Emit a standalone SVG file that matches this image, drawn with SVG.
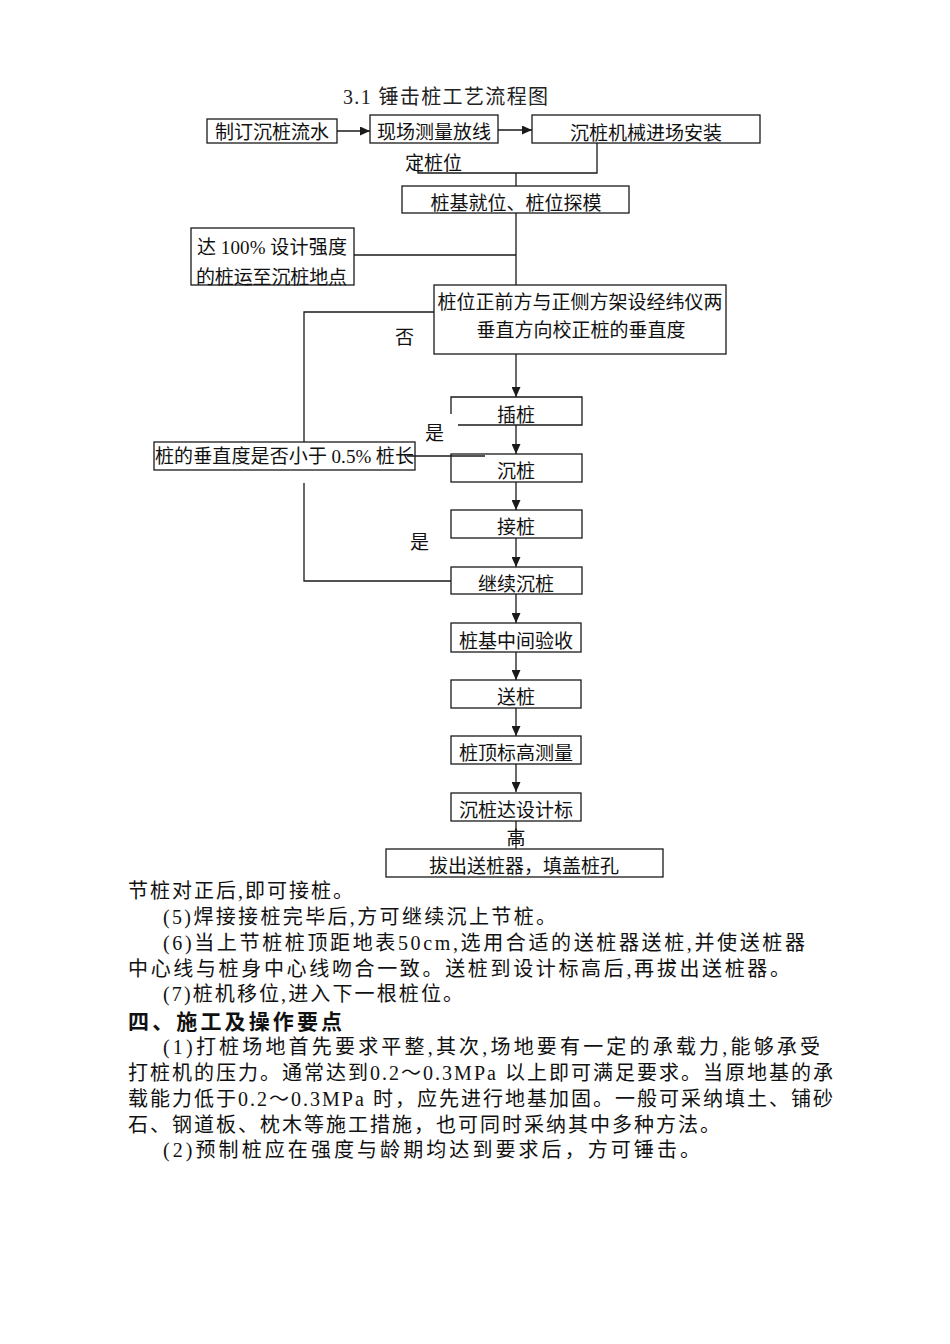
<svg xmlns="http://www.w3.org/2000/svg" width="950" height="1344" viewBox="0 0 950 1344">
<style>
.bx{fill:#fff;stroke:#1a1a1a;stroke-width:1.3}
.ln{fill:none;stroke:#1a1a1a;stroke-width:1.3}
.t{font-family:"Noto Sans CJK SC","Noto Sans",sans-serif;font-size:19px;fill:#111}
.tc{text-anchor:middle}
.num{font-family:"Liberation Serif","Noto Sans CJK SC",serif}
.body{font-family:"Liberation Serif","Noto Sans CJK SC",serif;font-size:20px;fill:#111}
.hd{font-family:"Noto Sans CJK SC",sans-serif;font-size:21px;font-weight:bold;fill:#111}
.title{font-family:"Liberation Serif","Noto Sans CJK SC",serif;font-size:20px;fill:#222}
</style>
<defs>
<marker id="ah" markerUnits="userSpaceOnUse" markerWidth="10" markerHeight="9" refX="10" refY="4.5" orient="auto">
<path d="M0,0 L10,4.5 L0,9 z" fill="#1a1a1a"/>
</marker>
</defs>
<rect width="950" height="1344" fill="#fff"/>
<text class="title" x="343" y="104" textLength="205" lengthAdjust="spacing">3.1 锤击桩工艺流程图</text>

<g id="connectors">
<line class="ln" x1="337" y1="131" x2="370" y2="131" marker-end="url(#ah)"/>
<line class="ln" x1="498" y1="130" x2="532" y2="130" marker-end="url(#ah)"/>
<polyline class="ln" points="418,158 418,173 597,173 597,143"/>
<line class="ln" x1="516" y1="173" x2="516" y2="186"/>
<line class="ln" x1="516" y1="213" x2="516" y2="285"/>
<line class="ln" x1="354" y1="255" x2="516" y2="255"/>
<line class="ln" x1="516" y1="354" x2="516" y2="397" marker-end="url(#ah)"/>
<polyline class="ln" points="434,312 304,312 304,442"/>
<polyline class="ln" points="304,483 304,581 451,581"/>
<line class="ln" x1="516" y1="425" x2="516" y2="454" marker-end="url(#ah)"/>
<line class="ln" x1="516" y1="482" x2="516" y2="510" marker-end="url(#ah)"/>
<line class="ln" x1="516" y1="538" x2="516" y2="567" marker-end="url(#ah)"/>
<line class="ln" x1="516" y1="594" x2="516" y2="623" marker-end="url(#ah)"/>
<line class="ln" x1="516" y1="652" x2="516" y2="680" marker-end="url(#ah)"/>
<line class="ln" x1="516" y1="708" x2="516" y2="736" marker-end="url(#ah)"/>
<line class="ln" x1="516" y1="764" x2="516" y2="792" marker-end="url(#ah)"/>
<line class="ln" x1="516" y1="821" x2="516" y2="849"/>
</g>

<g id="n1"><rect class="bx" x="207" y="119" width="130" height="24"/><text class="t tc" x="272" y="139">制订沉桩流水</text></g>
<g id="n2"><rect class="bx" x="370" y="115" width="128" height="28"/><text class="t tc" x="434" y="139">现场测量放线</text></g>
<g id="n2b"><text class="t" x="405" y="170">定桩位</text></g>
<g id="n3"><rect class="bx" x="532" y="115" width="228" height="28"/><text class="t tc" x="646" y="140">沉桩机械进场安装</text></g>
<g id="n4"><rect class="bx" x="402" y="186" width="227" height="27"/><text class="t tc" x="516" y="210">桩基就位、桩位探模</text></g>
<g id="n5"><rect class="bx" x="191" y="228" width="163" height="57"/>
<text class="t" x="197" y="254" textLength="150" lengthAdjust="spacing">达 <tspan class="num">100%</tspan> 设计强度</text>
<text class="t" x="196" y="284" textLength="151" lengthAdjust="spacing">的桩运至沉桩地点</text></g>
<g id="n6"><rect class="bx" x="434" y="285" width="292" height="69"/>
<text class="t tc" x="580" y="309">桩位正前方与正侧方架设经纬仪两</text>
<text class="t tc" x="581" y="337">垂直方向校正桩的垂直度</text></g>
<g id="lbl-no"><text class="t" x="395" y="344">否</text></g>
<g id="n7"><path class="ln" d="M451,414 L451,397 L582,397 L582,425 L458,425"/><text class="t tc" x="516" y="422">插桩</text></g>
<g id="lbl-yes1"><text class="t" x="425" y="440">是</text></g>
<g id="n8"><rect class="bx" x="451" y="454" width="131" height="28"/><text class="t tc" x="516" y="478">沉桩</text></g>
<g id="dec"><rect class="bx" x="154" y="442" width="261" height="28"/>
<text class="t" x="155" y="463" textLength="259" lengthAdjust="spacing">桩的垂直度是否小于 <tspan class="num">0.5%</tspan> 桩长</text></g>
<g id="connector-dec"><line class="ln" x1="407" y1="456" x2="485" y2="456"/></g>
<g id="n9"><rect class="bx" x="451" y="510" width="131" height="28"/><text class="t tc" x="516" y="534">接桩</text></g>
<g id="lbl-yes2"><text class="t" x="410" y="549">是</text></g>
<g id="n10"><rect class="bx" x="451" y="567" width="131" height="27"/><text class="t tc" x="516" y="591">继续沉桩</text></g>
<g id="n11"><rect class="bx" x="451" y="623" width="130" height="29"/><text class="t tc" x="516" y="648">桩基中间验收</text></g>
<g id="n12"><rect class="bx" x="451" y="680" width="130" height="28"/><text class="t tc" x="516" y="704">送桩</text></g>
<g id="n13"><rect class="bx" x="451" y="736" width="130" height="28"/><text class="t tc" x="516" y="760">桩顶标高测量</text></g>
<g id="n14"><rect class="bx" x="451" y="793" width="130" height="28"/><text class="t tc" x="516" y="817">沉桩达设计标</text></g>
<g id="n14b"><text class="t tc" x="516" y="845">高</text></g>
<g id="n15"><rect class="bx" x="386" y="849" width="277" height="28"/><text class="t tc" x="524" y="873">拔出送桩器，填盖桩孔</text></g>

<g id="body">
<text class="body" x="128" y="898" textLength="225" lengthAdjust="spacing">节桩对正后,即可接桩。</text>
<text class="body" x="163" y="924" textLength="393" lengthAdjust="spacing">(5)焊接接桩完毕后,方可继续沉上节桩。</text>
<text class="body" x="163" y="950" textLength="642" lengthAdjust="spacing">(6)当上节桩桩顶距地表50cm,选用合适的送桩器送桩,并使送桩器</text>
<text class="body" x="128" y="976" textLength="662" lengthAdjust="spacing">中心线与桩身中心线吻合一致。送桩到设计标高后,再拔出送桩器。</text>
<text class="body" x="163" y="1001" textLength="300" lengthAdjust="spacing">(7)桩机移位,进入下一根桩位。</text>
<text class="hd" x="128" y="1029" textLength="214" lengthAdjust="spacing">四、施工及操作要点</text>
<text class="body" x="163" y="1054" textLength="657" lengthAdjust="spacing">(1)打桩场地首先要求平整,其次,场地要有一定的承载力,能够承受</text>
<text class="body" x="128" y="1080" textLength="705" lengthAdjust="spacing">打桩机的压力。通常达到0.2～0.3MPa 以上即可满足要求。当原地基的承</text>
<text class="body" x="128" y="1106" textLength="705" lengthAdjust="spacing">载能力低于0.2～0.3MPa 时，应先进行地基加固。一般可采纳填土、铺砂</text>
<text class="body" x="128" y="1132" textLength="592" lengthAdjust="spacing">石、钢道板、枕木等施工措施，也可同时采纳其中多种方法。</text>
<text class="body" x="163" y="1157" textLength="537" lengthAdjust="spacing">(2)预制桩应在强度与龄期均达到要求后，方可锤击。</text>
</g>
</svg>
